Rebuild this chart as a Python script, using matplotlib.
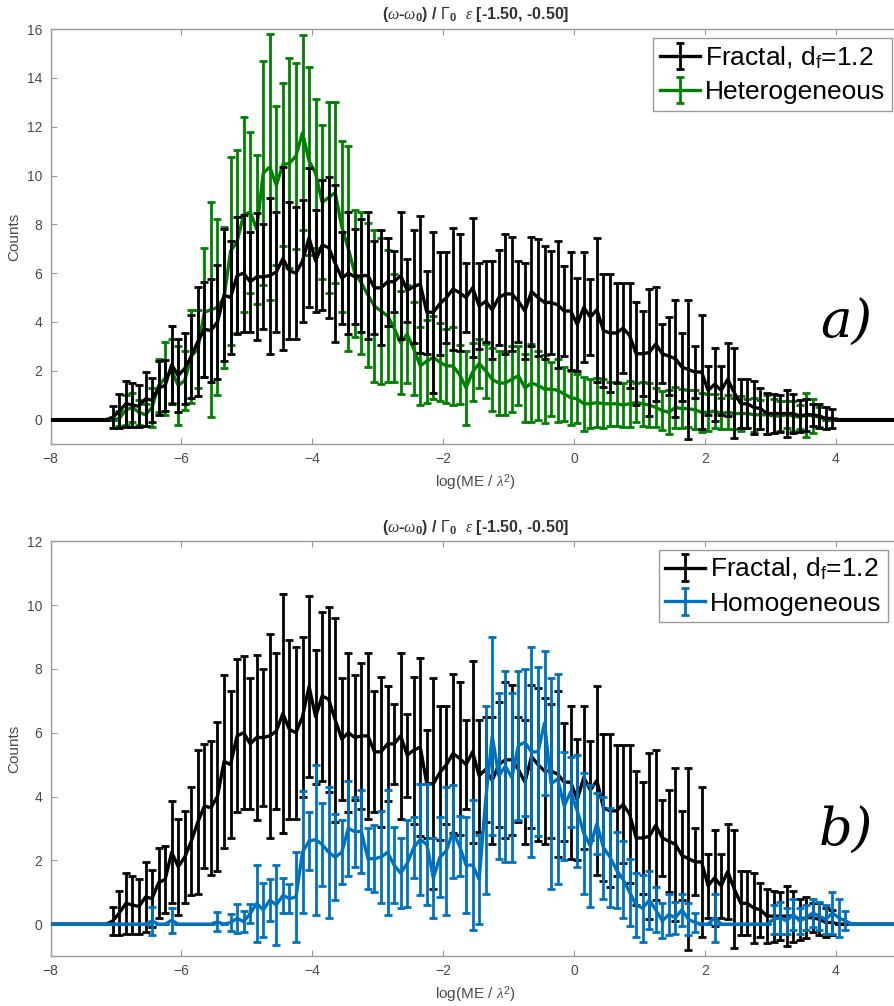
"""
Histogram comparison of log(ME / lambda^2) counts for fractal vs
heterogeneous / homogeneous media, with per-bin error bars.
"""

import numpy as np
import matplotlib.pyplot as plt

BIN_WIDTH = 0.1

# Fractal, d_f = 1.2 (bins from -7.05 to 3.95)
fractal_start = -7.05
fractal_counts = [
    0.10, 0.35, 0.65, 0.60, 0.55, 0.85, 0.80, 1.30, 1.40, 2.25,
    1.80, 2.10, 2.60, 3.20, 3.70, 3.65, 4.00, 5.10, 5.00, 5.90,
    6.00, 5.65, 5.85, 5.85, 5.90, 6.05, 6.60, 6.10, 6.00, 6.50,
    7.45, 6.50, 7.15, 7.05, 6.40, 5.80, 6.00, 5.85, 5.90, 5.90,
    5.40, 5.40, 5.65, 5.65, 5.90, 5.30, 5.45, 5.55, 4.40, 4.40,
    4.75, 5.00, 5.35, 5.20, 5.00, 5.40, 4.65, 4.85, 4.50, 5.00,
    5.15, 5.15, 4.85, 4.45, 5.25, 5.00, 4.80, 4.80, 4.70, 4.45,
    4.45, 3.90, 4.60, 4.20, 4.50, 3.65, 3.55, 3.55, 3.75, 3.45,
    2.70, 2.70, 2.75, 3.10, 2.70, 2.60, 2.50, 2.15, 2.05, 1.95,
    1.95, 1.20, 1.45, 1.20, 1.65, 1.10, 0.65, 0.65, 0.50, 0.45,
    0.25, 0.25, 0.25, 0.25, 0.25, 0.15, 0.20, 0.20, 0.15, 0.05,
    0.05,
]
fractal_err = [
    0.45, 0.70, 0.95, 0.90, 0.85, 1.10, 0.90, 1.10, 1.05, 1.60,
    1.50, 1.45, 1.70, 2.25, 1.95, 2.10, 2.35, 2.70, 2.30, 2.40,
    2.40, 2.05, 2.60, 2.15, 3.20, 2.45, 3.75, 2.80, 2.70, 2.50,
    2.85, 2.10, 2.65, 2.90, 3.20, 1.90, 2.50, 1.95, 2.30, 2.60,
    1.90, 2.35, 1.80, 1.25, 2.60, 1.30, 2.30, 2.80, 1.70, 3.30,
    2.10, 1.85, 2.50, 2.40, 1.40, 2.85, 1.75, 1.65, 2.00, 1.95,
    2.45, 2.35, 1.65, 1.95, 2.25, 2.40, 2.30, 2.10, 2.60, 1.85,
    2.40, 1.90, 2.25, 1.55, 2.95, 2.30, 2.40, 2.05, 1.85, 2.15,
    2.10, 1.75, 2.60, 2.35, 1.20, 1.60, 2.40, 1.40, 2.85, 1.05,
    2.35, 1.00, 1.50, 1.00, 1.50, 1.85, 1.00, 1.00, 1.10, 0.85,
    0.85, 0.80, 0.75, 0.95, 0.80, 0.65, 0.65, 0.45, 0.50, 0.45,
    0.40,
]

# Heterogeneous (bins from -6.95 to 3.75)
hetero_start = -6.95
hetero_counts = [
    0.05, 0.40, 0.50, 0.30, 0.20, 0.50, 1.40, 1.70, 2.00, 1.40,
    1.60, 2.60, 2.90, 4.40, 4.50, 4.60, 5.00, 6.90, 7.30, 8.40,
    8.50, 7.80, 10.10, 10.35, 9.60, 10.45, 10.50, 10.80, 11.75, 10.60,
    10.10, 8.90, 9.10, 9.30, 7.90, 7.00, 6.00, 5.60, 5.10, 4.65,
    4.45, 4.25, 3.75, 3.15, 3.50, 2.90, 2.20, 2.40, 2.55, 2.35,
    2.20, 2.20, 1.85, 1.30, 1.95, 2.30, 2.00, 1.65, 1.50, 1.50,
    1.65, 1.80, 1.30, 1.50, 1.40, 1.25, 1.25, 1.20, 1.05, 0.90,
    0.85, 0.65, 0.65, 0.70, 0.65, 0.65, 0.65, 0.60, 0.65, 0.70,
    0.65, 0.60, 0.50, 0.37, 0.30, 0.50, 0.45, 0.45, 0.40, 0.30,
    0.30, 0.35, 0.25, 0.30, 0.25, 0.25, 0.25, 0.20, 0.20, 0.20,
    0.15, 0.15, 0.20, 0.15, 0.10, 0.20, 0.15, 0.10,
]
hetero_err = [
    0.30, 0.60, 0.60, 0.50, 0.45, 0.80, 1.10, 1.50, 1.30, 1.60,
    1.20, 1.90, 1.60, 2.65, 4.40, 3.60, 2.90, 3.85, 3.75, 4.00,
    3.30, 3.05, 4.60, 5.45, 3.25, 3.35, 4.30, 3.80, 4.00, 3.85,
    3.05, 3.15, 3.90, 3.70, 3.50, 4.20, 2.60, 2.90, 2.95, 3.10,
    3.00, 2.70, 2.20, 2.10, 2.00, 1.90, 1.60, 1.70, 1.70, 1.60,
    1.50, 1.60, 1.20, 1.50, 1.20, 1.00, 1.10, 1.30, 1.30, 1.30,
    1.35, 1.20, 1.40, 1.60, 1.40, 1.40, 1.10, 1.30, 1.10, 1.10,
    1.00, 1.10, 1.00, 1.00, 1.00, 0.90, 0.90, 0.90, 0.95, 0.80,
    0.90, 0.90, 0.80, 0.80, 0.90, 0.85, 0.80, 0.75, 0.80, 0.80,
    0.75, 0.70, 0.65, 0.70, 0.65, 0.70, 0.60, 0.70, 0.60, 0.80,
    0.70, 0.60, 0.55, 0.60, 0.50, 0.90, 0.70, 0.40,
]

# Homogeneous (bins from -6.45 to 4.15)
homo_start = -6.45
homo_counts = [
    0.10, 0.00, 0.00, 0.12, 0.00, 0.00, 0.00, 0.00, 0.00, 0.00,
    0.07, 0.00, 0.05, 0.18, 0.08, 0.33, 0.65, 0.44, 0.75, 0.60,
    0.90, 0.80, 0.85, 2.26, 2.60, 2.65, 2.50, 2.25, 2.10, 2.25,
    3.00, 2.90, 2.90, 2.05, 2.05, 2.10, 2.25, 1.85, 1.60, 1.90,
    2.40, 2.65, 2.50, 1.45, 2.10, 2.30, 2.90, 2.45, 1.85, 1.85,
    1.40, 3.90, 5.90, 4.65, 4.95, 4.60, 5.60, 5.70, 5.40, 5.40,
    6.30, 4.40, 4.55, 3.70, 4.15, 3.55, 2.85, 2.45, 3.15, 2.40,
    2.10, 1.70, 1.40, 1.00, 0.60, 0.50, 0.75, 0.45, 0.10, 0.30,
    0.20, 0.45, 0.15, 0.05, 0.00, 0.00, 0.20, 0.00, 0.00, 0.00,
    0.00, 0.00, 0.00, 0.00, 0.00, 0.15, 0.20, 0.10, 0.30, 0.10,
    0.20, 0.35, 0.25, 0.15, 0.35, 0.20, 0.10,
]
homo_err = [
    0.45, 0.00, 0.00, 0.40, 0.00, 0.00, 0.00, 0.00, 0.00, 0.00,
    0.30, 0.00, 0.28, 0.45, 0.32, 0.30, 1.20, 0.85, 0.65, 1.25,
    0.55, 0.45, 1.40, 1.90, 0.90, 2.35, 1.30, 2.05, 1.35, 1.00,
    1.50, 1.10, 1.30, 0.95, 1.05, 1.45, 1.95, 1.20, 1.10, 1.35,
    0.95, 1.75, 1.90, 1.25, 1.25, 2.00, 1.45, 0.95, 1.50, 2.05,
    1.40, 2.95, 3.10, 2.60, 3.00, 2.65, 2.35, 2.30, 3.30, 2.65,
    2.25, 3.30, 3.30, 1.70, 1.10, 1.75, 1.90, 1.90, 0.95, 1.60,
    1.55, 1.20, 1.20, 1.05, 1.00, 1.05, 0.90, 0.70, 0.55, 0.65,
    0.50, 0.50, 0.50, 0.30, 0.00, 0.00, 0.75, 0.00, 0.00, 0.00,
    0.00, 0.00, 0.00, 0.00, 0.00, 0.45, 0.50, 0.40, 0.50, 0.40,
    0.40, 0.45, 0.45, 0.45, 0.65, 0.60, 0.30,
]

x_ticks = [-8, -6, -4, -2, 0, 2, 4]

# full bin grid covering the whole x range, empty bins count as zero
centers = np.round(np.arange(-80.5, 51.0, 1.0) / 10.0, 2)


def on_grid(start, values):
    full = np.zeros(len(centers))
    i0 = int(round((start - centers[0]) / BIN_WIDTH))
    full[i0:i0 + len(values)] = values
    return full


plt.rcParams['font.family'] = ['Liberation Sans', 'DejaVu Sans']
plt.rcParams['mathtext.fontset'] = 'custom'
plt.rcParams['mathtext.rm'] = 'Liberation Sans'
plt.rcParams['mathtext.it'] = 'Liberation Serif:italic'
plt.rcParams['mathtext.bf'] = 'Liberation Sans:bold'

AXIS_GRAY = '#9a9a9a'
LABEL_GRAY = '#4a4a4a'
GREEN = '#008000'
BLUE = '#0072bd'

TITLE = r'($\omega$-$\omega_\mathbf{0}$) / $\Gamma_\mathbf{0}$  $\epsilon$ [-1.50, -0.50]'
ERR_STYLE = dict(lw=2.4, elinewidth=2.0, capsize=3.2, capthick=2.0)


def style_axes(ax, ymax, yticks):
    ax.set_xlim(-8, 5)
    ax.set_ylim(-1, ymax)
    ax.set_xticks(x_ticks)
    ax.set_yticks(yticks)
    ax.tick_params(direction='in', length=4, width=0.8, colors=AXIS_GRAY,
                   labelcolor=LABEL_GRAY, labelsize=10, top=True, right=True, pad=6)
    for s in ax.spines.values():
        s.set_color(AXIS_GRAY)
        s.set_linewidth(1.0)
    ax.set_ylabel('Counts', fontsize=11, color=LABEL_GRAY, labelpad=4)
    ax.set_xlabel(r'log(ME / $\lambda^2$)', fontsize=11, color=LABEL_GRAY, labelpad=4)
    ax.set_title(TITLE, fontsize=11.5, fontweight='bold', color='#333333', pad=7)


fractal = on_grid(fractal_start, fractal_counts)
fractal_e = on_grid(fractal_start, fractal_err)

fig = plt.figure(figsize=(8.95, 10.06), dpi=100)
ax1 = fig.add_axes([0.0566, 0.5586, 0.9502, 0.4125])
ax2 = fig.add_axes([0.0566, 0.0497, 0.9502, 0.4122])

# a) fractal vs heterogeneous
h1 = ax1.errorbar(centers, fractal, yerr=fractal_e, color='k', zorder=3,
                  label=r'Fractal, d$_\mathrm{f}$=1.2', **ERR_STYLE)
h2 = ax1.errorbar(centers, on_grid(hetero_start, hetero_counts),
                  yerr=on_grid(hetero_start, hetero_err), color=GREEN, zorder=2,
                  label='Heterogeneous', **ERR_STYLE)
style_axes(ax1, 16, np.arange(0, 17, 2))
ax1.legend(handles=[h1, h2], loc='upper right', bbox_to_anchor=(0.989, 0.978),
           borderaxespad=0, fontsize=19, fancybox=False, framealpha=1,
           edgecolor=AXIS_GRAY, handlelength=1.5, handletextpad=0.2,
           borderpad=0.25, labelspacing=0.35)
ax1.text(0.935, 0.29, 'a)', transform=ax1.transAxes, ha='center', va='center',
         fontsize=38, style='italic', family='DejaVu Serif')

# b) fractal vs homogeneous
h3 = ax2.errorbar(centers, fractal, yerr=fractal_e, color='k', zorder=2,
                  label=r'Fractal, d$_\mathrm{f}$=1.2', **ERR_STYLE)
h4 = ax2.errorbar(centers, on_grid(homo_start, homo_counts),
                  yerr=on_grid(homo_start, homo_err), color=BLUE, zorder=3,
                  label='Homogeneous', **ERR_STYLE)
style_axes(ax2, 12, np.arange(0, 13, 2))
ax2.legend(handles=[h3, h4], loc='upper right', bbox_to_anchor=(0.985, 0.98),
           borderaxespad=0, fontsize=19, fancybox=False, framealpha=1,
           edgecolor=AXIS_GRAY, handlelength=1.5, handletextpad=0.2,
           borderpad=0.25, labelspacing=0.35)
ax2.text(0.935, 0.30, 'b)', transform=ax2.transAxes, ha='center', va='center',
         fontsize=38, style='italic', family='DejaVu Serif')

fig.savefig('out.png', dpi=100)
